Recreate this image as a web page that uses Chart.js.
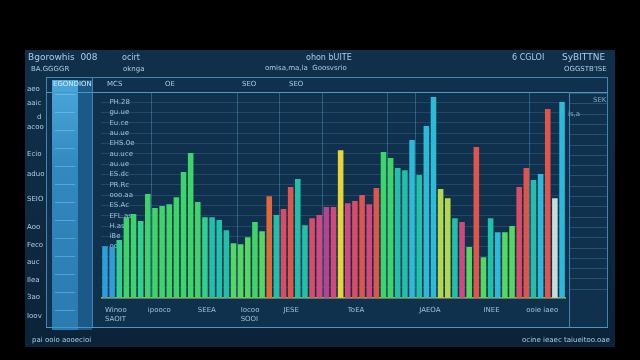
<!DOCTYPE html>
<html>
<head>
<meta charset="utf-8">
<script src="https://cdn.jsdelivr.net/npm/chart.js@4.4.1/dist/chart.umd.min.js"></script>
<style>
html, body { margin: 0; padding: 0; background: #000; }
#wrap { position: relative; width: 640px; height: 360px; overflow: hidden; background: #000; font-family: "DejaVu Sans", sans-serif; }
#panel { position: absolute; left: 25px; top: 50px; width: 590px; height: 297px; background: linear-gradient(180deg, #10304a 0%, #0d2a42 55%, #0b2338 100%); }
#frame { position: absolute; left: 46px; top: 77px; width: 562px; height: 251px; border: 1px solid #3f86b0; box-sizing: border-box; background: #0f314d; }
#hdrline { position: absolute; left: 46px; top: 92px; width: 562px; height: 1px; background: #4b97c2; }
#col1 { position: absolute; left: 52px; top: 80px; width: 26px; height: 250px; background: linear-gradient(180deg, #4ba8da 0%, #3189bf 35%, #2a7bb1 100%); }
#col1 .lines { position: absolute; left: 3px; right: 3px; top: 14px; bottom: 4px; background: repeating-linear-gradient(180deg, rgba(170,220,245,0.35) 0 1px, transparent 1px 18px); }
#col2 { position: absolute; left: 78px; top: 80px; width: 14px; height: 250px; background: #1b5987; }
#vl1 { position: absolute; left: 92px; top: 77px; width: 1px; height: 251px; background: #3f86b0; }
#vl2 { position: absolute; left: 569px; top: 92px; width: 1px; height: 236px; background: #3f86b0; }
#rcol { position: absolute; left: 570px; top: 93px; width: 37px; height: 205px; background: repeating-linear-gradient(180deg, rgba(90,160,200,0.3) 0 1px, transparent 1px 10.3px); }
#bline { position: absolute; left: 46px; top: 327px; width: 562px; height: 1px; background: #4b97c2; }
#c { position: absolute; left: 0; top: 0; }
.t { position: absolute; color: #a9cde3; white-space: nowrap; line-height: 1; }
.s7 { font-size: 7px; }
.s8 { font-size: 8px; }
.s9 { font-size: 9px; }
.dim { color: #7fa9c4; }
</style>
</head>
<body>
<div id="wrap">
  <div id="panel"></div>
  <div id="frame"></div>
  <div id="col1"><div class="lines"></div></div>
  <div id="col2"></div>
  <div id="hdrline"></div>
  <div id="vl1"></div>
  <div id="vl2"></div>
  <div id="rcol"></div>
  <div id="bline"></div>
  <canvas id="c" width="640" height="360"></canvas>

  <div class="t s9" style="left:28px;top:53px;">Bgorowhis&nbsp;&nbsp;008</div>
  <div class="t s7" style="left:31px;top:66px;">BA.GGGGR</div>
  <div class="t s8" style="left:122px;top:54px;">ocirt</div>
  <div class="t s7" style="left:123px;top:66px;">oknga</div>
  <div class="t s8" style="left:306px;top:54px;">ohon bUITE</div>
  <div class="t s7" style="left:265px;top:65px;">omisa,ma,la&nbsp;&nbsp;Goosvsrio</div>
  <div class="t s8" style="left:512px;top:54px;">6 CGLOI</div>
  <div class="t s9" style="left:562px;top:53px;">SyBITTNE</div>
  <div class="t s7" style="left:564px;top:66px;">OGGSTB'ISE</div>

  <div class="t s7" style="left:53px;top:81px;color:#d4ecf8;">EGONDION</div>
  <div class="t s7" style="left:107px;top:81px;">MCS</div>
  <div class="t s7" style="left:165px;top:81px;">OE</div>
  <div class="t s7" style="left:242px;top:81px;">SEO</div>
  <div class="t s7" style="left:289px;top:81px;">SEO</div>
  <div class="t s7 dim" style="left:593px;top:97px;">SEK</div>
  <div class="t s7 dim" style="left:568px;top:111px;">is,a</div>

  <div class="t s7" style="left:27px;top:86px;">aeo</div>
  <div class="t s7" style="left:27px;top:100px;">aaic</div>
  <div class="t s7" style="left:37px;top:114px;">d</div>
  <div class="t s7" style="left:27px;top:124px;">acoo</div>
  <div class="t s7" style="left:27px;top:151px;">Ecio</div>
  <div class="t s7" style="left:27px;top:171px;">aduo</div>
  <div class="t s7" style="left:27px;top:196px;">SEIO</div>
  <div class="t s7" style="left:27px;top:224px;">Aoo</div>
  <div class="t s7" style="left:27px;top:242px;">Feco</div>
  <div class="t s7" style="left:27px;top:259px;">auc</div>
  <div class="t s7" style="left:27px;top:277px;">Ilea</div>
  <div class="t s7" style="left:27px;top:294px;">3ao</div>
  <div class="t s7" style="left:27px;top:313px;">Ioov</div>

  <div class="t s7" style="left:32px;top:337px;">pai ooio aooecioi</div>
  <div class="t s7" style="left:522px;top:337px;">ocine ieaec taiueitoo.oae</div>
</div>
<script>
// bar heights (0 = baseline, 100 = top of plot)
const values = [
  25.2, 24.8, 28.2, 39.3, 40.8, 37.4, 50.5, 43.7, 44.7, 45.6,
  49.0, 61.2, 70.4, 46.6, 39.3, 39.3, 37.9, 33.0, 26.7, 26.2,
  29.6, 36.9, 32.5, 49.5, 40.3, 43.2, 53.9, 57.8, 35.4, 38.8,
  40.3, 44.2, 44.2, 71.8, 46.1, 47.1, 50.0, 45.6, 53.4, 70.9,
  68.0, 63.1, 62.1, 76.7, 59.7, 83.5, 97.6, 52.9, 48.5, 38.8,
  36.9, 24.8, 73.3, 19.9, 38.8, 32.0, 32.0, 35.0, 53.9, 63.1,
  57.3, 60.2, 91.7, 48.5, 95.1
];

// colour group of each bar
const groups = [
  'blue', 'blue', 'tgreen', 'green', 'green', 'tgreen', 'green', 'green', 'green', 'green',
  'green', 'green', 'green', 'green', 'tgreen', 'teal', 'teal', 'teal', 'lgreen', 'lgreen',
  'lgreen', 'green', 'lgreen', 'orange', 'teal', 'rose', 'red', 'teal', 'teal', 'rose',
  'pink', 'magenta', 'pink', 'yellow', 'pink', 'rose', 'red', 'pink', 'red', 'green',
  'green', 'teal', 'teal', 'cyan', 'teal', 'cyan', 'cyan', 'ygreen', 'ygreen', 'teal',
  'pink', 'lgreen', 'red', 'lgreen', 'teal', 'cyan', 'lgreen', 'lgreen', 'rose', 'red',
  'teal', 'cyan', 'red', 'light', 'cyan'
];

const palette = {
  blue: '#2a9fd8', green: '#3fd46a', lgreen: '#55d862', tgreen: '#33cf8c',
  teal: '#22c0a8', cyan: '#2bbbd9', red: '#e0544c', rose: '#d94c66',
  pink: '#d0487c', magenta: '#b8428c', orange: '#e0693c', yellow: '#e6d53a',
  ygreen: '#b4d84c', light: '#c9dcdc'
};

// bottom axis labels and where they sit
const xTickIdx = [0, 6, 13, 19, 25, 34, 44, 53, 59];
const xTickText = [['Winoo', 'SAOIT'], 'ipooco', 'SEEA', ['Iocoo', 'SOOI'], 'JESE', 'ToEA', 'JAEOA', 'INEE', 'ooie iaeo'];

// inner scale labels, from 95 down to 25
const yTickText = ['PH.28', 'gu.ue', 'Eu.ce', 'au.ue', 'EHS.0e', 'au.uce', 'au.ue', 'ES.dc', 'PR.Rc', 'ooo.aa', 'ES.Ac', 'EFL.as', 'H.as', 'iBe', 'ooo'];

// highlighted vertical grid lines (category boundaries)
const vGrid = [7, 19, 25, 31, 40, 44, 60];

const labels = values.map((v, i) => 'b' + (i + 1));

// mirrored y labels: the axis takes 2 * padding of width, so take it back from the layout
const yPad = 8;

new Chart(document.getElementById('c').getContext('2d'), {
  type: 'bar',
  data: {
    labels: labels,
    datasets: [{
      data: values,
      backgroundColor: groups.map(g => palette[g]),
      borderWidth: 0,
      barPercentage: 0.78,
      categoryPercentage: 1
    }]
  },
  options: {
    responsive: false,
    animation: false,
    layout: { padding: { left: 101.4 - 2 * yPad, right: 74.4, top: 92, bottom: 29 } },
    plugins: { legend: { display: false }, tooltip: { enabled: false } },
    scales: {
      x: {
        grid: {
          drawTicks: false,
          color: ctx => vGrid.includes(ctx.index) ? 'rgba(80,150,195,0.45)' : 'rgba(0,0,0,0)'
        },
        border: { color: '#a4ad4e', width: 1.5 },
        ticks: {
          autoSkip: false,
          maxRotation: 0,
          align: 'start',
          padding: 8,
          color: '#9cc2d8',
          font: { family: 'DejaVu Sans', size: 7 },
          callback: (v, i) => {
            const k = xTickIdx.indexOf(i);
            return k >= 0 ? xTickText[k] : '';
          }
        }
      },
      y: {
        min: 0,
        max: 100,
        grid: { drawTicks: false, color: 'rgba(90,160,200,0.22)' },
        border: { display: false },
        ticks: {
          stepSize: 5,
          autoSkip: false,
          mirror: true,
          padding: yPad,
          color: '#9cc2d8',
          font: { family: 'DejaVu Sans', size: 7 },
          callback: v => (v >= 25 && v <= 95) ? yTickText[(95 - v) / 5] : ''
        }
      }
    }
  }
});
</script>
</body>
</html>
